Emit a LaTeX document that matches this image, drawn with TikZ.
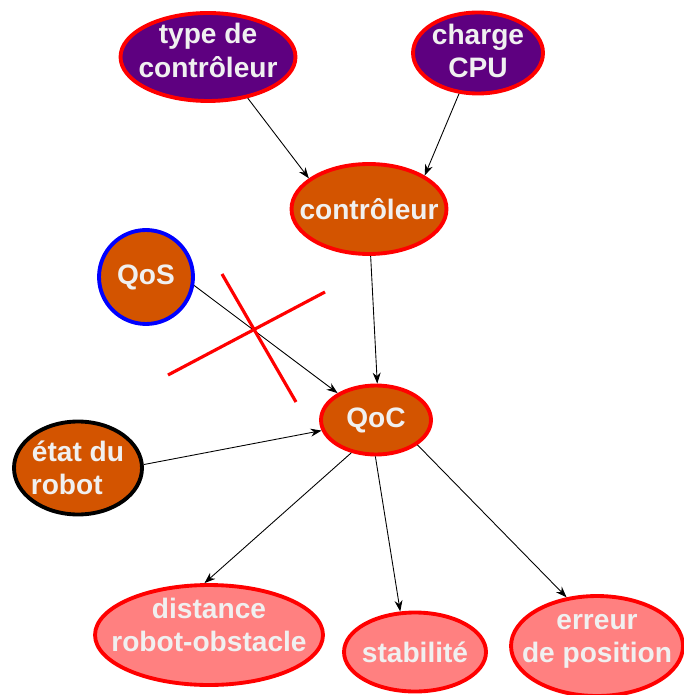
\documentclass[tikz,border=0pt]{standalone}
\usepackage{fontspec}
\setmainfont{Liberation Sans}
\usetikzlibrary{positioning, arrows.meta, shapes.geometric}
\definecolor{prune}{HTML}{5E0080}
\definecolor{rouille}{HTML}{D35400}
\definecolor{saumon}{HTML}{FF8080}
\definecolor{bord}{HTML}{FF0000}
\definecolor{bleu}{HTML}{0000FF}
\definecolor{blanc}{HTML}{F0F0F0}

\begin{document}
\begin{tikzpicture}[
    x=0.02cm, y=-0.02cm,
    var/.style={ellipse, draw=bord, line width=2.2pt, inner sep=-14pt, align=center,
        text=blanc, font=\fontsize{16}{19}\selectfont\bfseries},
    entree/.style={var, fill=prune},
    inter/.style={var, fill=rouille},
    sortie/.style={var, fill=saumon},
    arr/.style={-{Stealth[length=2.2mm, width=1.6mm]}, line width=0.5pt},
    croix/.style={draw=bord, line width=1.8pt}
]
\useasboundingbox (0,0) rectangle (683,695);

% entrees
\node[entree, minimum width=3.5cm, minimum height=1.76cm, text depth=0.26cm] (typectrl) at (208,57) {type de\\contrôleur};
\node[entree, minimum width=2.6cm, minimum height=1.62cm, text depth=0.08cm] (cpu) at (478,53) {charge\\CPU};

% controleur
\node[inter, minimum width=3.1cm, minimum height=1.8cm] (ctrl) at (369,209) {contrôleur};

% QoS
\node[inter, draw=bleu, circle, inner sep=0pt, minimum size=1.88cm] (qos) at (146,277) {QoS};

% QoC
\node[inter, minimum width=2.2cm, minimum height=1.38cm] (qoc) at (376,420) {QoC};

% etat du robot
\node[inter, draw=black, minimum width=2.56cm, minimum height=1.86cm] (etat) at (78,468) {état du\\robot\hspace*{0.8em}};

% sorties
\node[sortie, minimum width=4.56cm, minimum height=2cm, text depth=0.42cm] (dist) at (209,635) {distance\\robot-obstacle};
\node[sortie, minimum width=2.84cm, minimum height=1.58cm] (stab) at (415,652) {stabilité};
\node[sortie, minimum width=3.44cm, minimum height=2cm, text depth=0.3cm] (err) at (597,646) {erreur\\de position};

% liens
\draw[arr] (typectrl.-46) -- (ctrl.153);
\draw[arr] (cpu.-115) -- (ctrl.31);
\draw[arr] (ctrl.-88) -- (qoc.88);
\draw[arr] (qos.-10) -- (qoc.145);
\draw[arr] (etat.3) -- (qoc.-169);
\draw[arr] (qoc.-127) -- (dist.95);
\draw[arr] (qoc.-91) -- (stab.110);
\draw[arr] (qoc.-31) -- (err.122);

% croix sur QoS
\coordinate (c1a) at (222,274);
\coordinate (c1b) at (296,402);
\coordinate (c2a) at (168,375);
\coordinate (c2b) at (325,292);
\draw[croix] (c1a) -- (c1b);
\draw[croix] (c2a) -- (c2b);

\end{tikzpicture}
\end{document}
